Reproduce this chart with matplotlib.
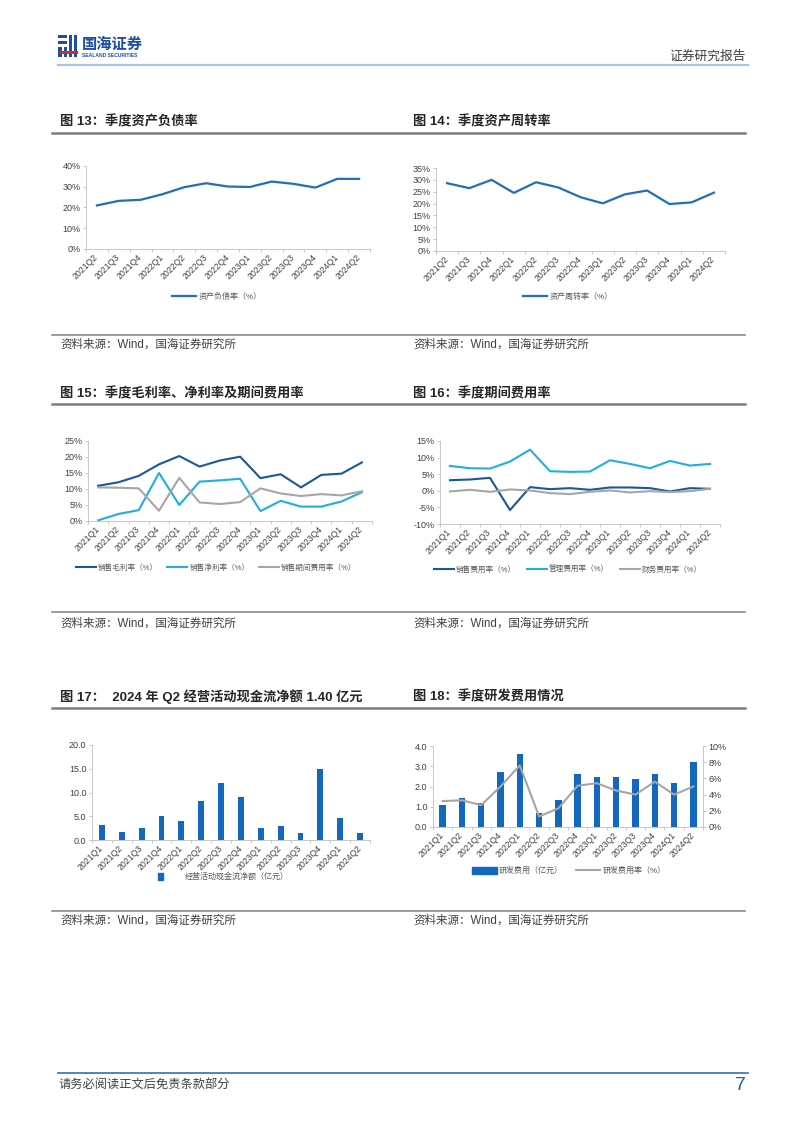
import numpy as np
import matplotlib
matplotlib.use("Agg")
import matplotlib.pyplot as plt
from matplotlib.patches import Rectangle, Patch
from matplotlib.lines import Line2D

plt.rcParams['font.family'] = ['Liberation Sans', 'Noto Sans CJK SC']

W, H = 802, 1133

# ---- data ----
q_from_q2 = ["2021Q2", "2021Q3", "2021Q4", "2022Q1", "2022Q2", "2022Q3", "2022Q4",
             "2023Q1", "2023Q2", "2023Q3", "2023Q4", "2024Q1", "2024Q2"]
quarters = ["2021Q1", "2021Q2", "2021Q3", "2021Q4", "2022Q1", "2022Q2", "2022Q3",
            "2022Q4", "2023Q1", "2023Q2", "2023Q3", "2023Q4", "2024Q1", "2024Q2"]

debt_ratio = [21.0, 23.2, 23.7, 26.4, 29.8, 31.7, 30.1, 29.9, 32.5, 31.4, 29.6, 33.8, 33.8]
turnover = [28.6, 26.5, 30.0, 24.5, 29.0, 26.8, 22.7, 20.1, 23.9, 25.5, 19.8, 20.5, 24.6]

gross_margin = [11.0, 12.1, 14.1, 17.7, 20.3, 17.0, 18.9, 20.1, 13.4, 14.6, 10.5, 14.4, 14.8, 18.3]
net_margin = [0.2, 2.2, 3.4, 15.0, 5.0, 12.3, 12.7, 13.2, 3.1, 6.3, 4.5, 4.5, 6.1, 9.0]
period_exp = [10.5, 10.4, 10.2, 3.2, 13.5, 5.8, 5.3, 5.9, 10.2, 8.6, 7.8, 8.4, 8.0, 9.3]

sell_exp = [3.2, 3.4, 3.9, -5.8, 1.1, 0.5, 0.8, 0.3, 1.0, 1.0, 0.8, -0.2, 0.8, 0.6]
admin_exp = [7.5, 6.8, 6.7, 8.8, 12.4, 5.9, 5.7, 5.8, 9.2, 8.1, 6.8, 9.0, 7.6, 8.1]
fin_exp = [-0.2, 0.3, -0.3, 0.4, 0.1, -0.7, -1.0, -0.3, 0.1, -0.5, -0.1, -0.4, -0.1, 0.6]

op_cash = [3.15, 1.75, 2.6, 5.0, 4.0, 8.25, 12.0, 8.95, 2.5, 2.9, 1.4, 15.0, 4.6, 1.40]

rd_cost = [1.1, 1.45, 1.19, 2.73, 3.59, 0.71, 1.31, 2.6, 2.45, 2.48, 2.38, 2.6, 2.15, 3.22]
rd_ratio = [3.2, 3.3, 2.7, 5.0, 7.6, 1.3, 2.3, 5.1, 5.4, 4.5, 4.0, 5.6, 4.0, 5.0]

BLUE = '#1F6FBF'
DARK = '#17589E'
LIGHT = '#22AEE0'
GRAY = '#A6A6A6'
BAR = '#1368BD'
TXT = '#404040'

fig = plt.figure(figsize=(W / 100, H / 100), dpi=100)


def px_axes(l, t, r, b):
    return fig.add_axes([l / W, 1 - b / H, (r - l) / W, (b - t) / H])


def ftext(x, y, s, **kw):
    fig.text(x / W, 1 - y / H, s, **kw)


def fline(x0, x1, y, **kw):
    fig.add_artist(Line2D([x0 / W, x1 / W], [1 - y / H, 1 - y / H], **kw))


def style(ax, cats):
    for s in ['top', 'right']:
        ax.spines[s].set_visible(False)
    for s in ['left', 'bottom']:
        ax.spines[s].set_color('#BFBFBF')
        ax.spines[s].set_linewidth(0.6)
    ax.set_xlim(-0.5, len(cats) - 0.5)
    ax.set_xticks(range(len(cats)))
    ax.set_xticklabels(cats, rotation=45, ha='right', va='center',
                       rotation_mode='anchor', fontsize=6.3, color=TXT)
    ax.set_xticks(np.arange(-0.5, len(cats)), minor=True)
    ax.tick_params(axis='x', which='major', length=0, pad=5)
    ax.tick_params(axis='x', which='minor', length=2.5, color='#BFBFBF', width=0.6)
    ax.tick_params(axis='y', labelsize=6.5, labelcolor=TXT, length=2,
                   color='#BFBFBF', width=0.6, pad=2)


def pct_ticks(ax, lo, hi, step):
    ticks = np.arange(lo, hi + step / 2, step)
    ax.set_ylim(lo, hi)
    ax.set_yticks(ticks)
    ax.set_yticklabels([f"{t:.0f}%" for t in ticks])


def legend_at(ax, handles, labels, x, y, **kw):
    opts = dict(fontsize=5.8, labelcolor='#595959', handlelength=3.0,
                columnspacing=1.6, handletextpad=0.3)
    opts.update(kw)
    ax.legend(handles, labels, loc='center', bbox_to_anchor=(x / W, 1 - y / H),
              bbox_transform=fig.transFigure, frameon=False, ncol=len(labels),
              **opts)


# ---- header ----
logo_blue = '#1E4FA0'
for (x, y, w, h, c) in [(58, 35, 9, 3, logo_blue), (58, 41, 9, 3, logo_blue),
                        (58, 47, 4, 10, logo_blue), (64, 47, 3, 10, logo_blue),
                        (69, 35, 3, 22, logo_blue), (74, 35, 3, 22, logo_blue),
                        (60, 51, 18, 3, '#D7282F')]:
    fig.add_artist(Rectangle((x / W, 1 - (y + h) / H), w / W, h / H,
                             transform=fig.transFigure, color=c, lw=0))
ftext(82, 45, "国海证券", fontsize=11, fontweight='bold', color=logo_blue, va='center')
ftext(82, 55.5, "SEALAND SECURITIES", fontsize=3.6, fontweight='bold', color=logo_blue, va='center')
ftext(746, 57, "证券研究报告", fontsize=9.2, color=TXT, ha='right', va='center')
fline(58, 748, 65, color='#A9C4E8', lw=1.6)

# ---- titles and source lines ----
title_kw = dict(fontsize=9.5, fontweight='bold', color='#262626', va='center')
src_kw = dict(fontsize=8.3, color=TXT, va='center')
src = "资料来源：Wind，国海证券研究所"

ftext(60, 122, "图 13：季度资产负债率", **title_kw)
ftext(413, 122, "图 14：季度资产周转率", **title_kw)
fline(52, 745, 133, color='#7F7F7F', lw=1.8)
fline(52, 745, 335, color='#7F7F7F', lw=1.1)
ftext(60, 345, src, **src_kw)
ftext(413, 345, src, **src_kw)

ftext(60, 394, "图 15：季度毛利率、净利率及期间费用率", **title_kw)
ftext(413, 394, "图 16：季度期间费用率", **title_kw)
fline(52, 745, 404, color='#7F7F7F', lw=1.8)
fline(52, 745, 612, color='#7F7F7F', lw=1.1)
ftext(60, 624, src, **src_kw)
ftext(413, 624, src, **src_kw)

ftext(60, 697, "图 17：  2024 年 Q2 经营活动现金流净额 1.40 亿元", **title_kw)
ftext(413, 697, "图 18：季度研发费用情况", **title_kw)
fline(52, 745, 708, color='#7F7F7F', lw=1.8)
fline(52, 745, 911, color='#7F7F7F', lw=1.1)
ftext(60, 921, src, **src_kw)
ftext(413, 921, src, **src_kw)

# ---- footer ----
fline(58, 748, 1073, color='#2F6FBF', lw=1.2)
ftext(58, 1085, "请务必阅读正文后免责条款部分", fontsize=8.8, color=TXT, va='center')
ftext(746, 1085, "7", fontsize=14, color='#1F5FB0', ha='right', va='center')

# ---- chart 13 ----
ax = px_axes(86, 166, 370, 249)
style(ax, q_from_q2)
ax.plot(range(len(q_from_q2)), debt_ratio, color=BLUE, lw=1.6)
pct_ticks(ax, 0, 40, 10)
legend_at(ax, [Line2D([], [], color=BLUE, lw=1.6)], ["资产负债率（%）"], 217, 297)

# ---- chart 14 ----
ax = px_axes(436, 168, 725, 251)
style(ax, q_from_q2)
ax.plot(range(len(q_from_q2)), turnover, color=BLUE, lw=1.6)
pct_ticks(ax, 0, 35, 5)
legend_at(ax, [Line2D([], [], color=BLUE, lw=1.6)], ["资产周转率（%）"], 568, 297)

# ---- chart 15 ----
ax = px_axes(88, 441, 372, 521)
style(ax, quarters)
x = range(len(quarters))
ax.plot(x, gross_margin, color=DARK, lw=1.5)
ax.plot(x, net_margin, color=LIGHT, lw=1.5)
ax.plot(x, period_exp, color=GRAY, lw=1.5)
pct_ticks(ax, 0, 25, 5)
legend_at(ax, [Line2D([], [], color=c, lw=1.5) for c in (DARK, LIGHT, GRAY)],
          ["销售毛利率（%）", "销售净利率（%）", "销售期间费用率（%）"], 216, 568,
          fontsize=5.5, handlelength=2.6, columnspacing=1.2)

# ---- chart 16 ----
ax = px_axes(440, 441, 720, 524)
style(ax, quarters)
ax.plot(x, sell_exp, color=DARK, lw=1.5)
ax.plot(x, admin_exp, color=LIGHT, lw=1.5)
ax.plot(x, fin_exp, color=GRAY, lw=1.5)
pct_ticks(ax, -10, 15, 5)
legend_at(ax, [Line2D([], [], color=c, lw=1.5) for c in (DARK, LIGHT, GRAY)],
          ["销售费用率（%）", "管理费用率（%）", "财务费用率（%）"], 568, 570,
          fontsize=5.5, handlelength=2.6, columnspacing=1.4)

# ---- chart 17 ----
ax = px_axes(92, 745, 370, 840)
style(ax, quarters)
ax.bar(x, op_cash, width=0.3, color=BAR)
ax.set_ylim(0, 20)
ax.set_yticks(np.arange(0, 20.1, 5))
ax.set_yticklabels([f"{t:.1f}" for t in np.arange(0, 20.1, 5)])
legend_at(ax, [Patch(color=BAR)], ["经营活动现金流净额（亿元）"], 223, 877,
          handleheight=0.8)
for h in ax.get_legend().legend_handles:
    h.set_width(4)

# ---- chart 18 ----
ax = px_axes(433, 746, 703, 827)
style(ax, quarters)
ax.bar(x, rd_cost, width=0.34, color=BAR)
ax.set_ylim(0, 4)
ax.set_yticks(np.arange(0, 4.1, 1))
ax.set_yticklabels([f"{t:.1f}" for t in np.arange(0, 4.1, 1)])
ax2 = ax.twinx()
ax2.set_xlim(-0.5, len(quarters) - 0.5)
ax2.plot(x, rd_ratio, color=GRAY, lw=1.5)
pct_ticks(ax2, 0, 10, 2)
for s in ['top', 'left', 'bottom']:
    ax2.spines[s].set_visible(False)
ax2.spines['right'].set_color('#BFBFBF')
ax2.spines['right'].set_linewidth(0.6)
ax2.tick_params(axis='y', labelsize=6.5, labelcolor=TXT, length=2,
                color='#BFBFBF', width=0.6, pad=2)
legend_at(ax2, [Patch(color=BAR), Line2D([], [], color=GRAY, lw=1.5)],
          ["研发费用（亿元）", "研发费用率（%）"], 569, 871, handleheight=1.0)

fig.savefig("out.png", dpi=100)
